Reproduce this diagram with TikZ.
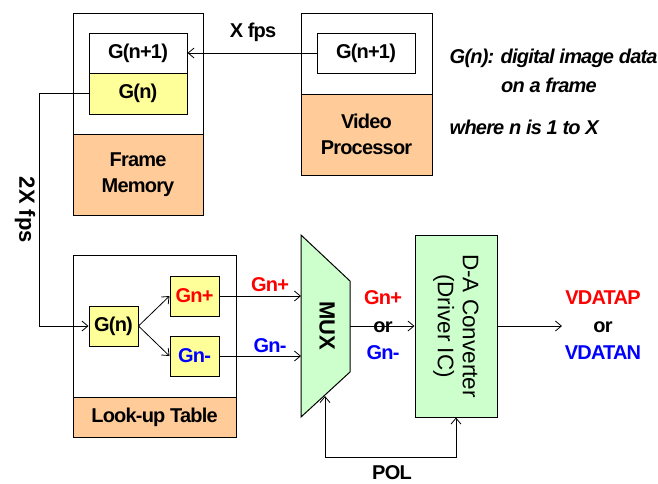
\documentclass[tikz,border=0pt]{standalone}
\usepackage{fontspec}
\setmainfont{Liberation Sans}[LetterSpace=-4]
\newfontfamily\widefont{Liberation Sans}
\usetikzlibrary{arrows.meta,positioning}
\definecolor{peach}{RGB}{255,204,153}
\definecolor{lemon}{RGB}{255,255,153}
\definecolor{mint}{RGB}{204,255,204}
\begin{document}
\begin{tikzpicture}[
  x=1pt,y=-1pt,
  font=\fontsize{20}{26}\selectfont\bfseries,
  >={Straight Barb[length=6pt,width=10pt]},
  line width=0.8pt,
  box/.style={draw,line width=1pt,inner sep=0pt,align=center},
  wide/.style={box,minimum width=98pt,minimum height=40pt},
  small/.style={box,fill=lemon,minimum width=49pt,minimum height=40pt},
  note/.style={anchor=west,font=\fontsize{20}{22}\selectfont\bfseries\itshape}
]
\useasboundingbox (0,0) rectangle (658,483);
% frame memory
\node[box,minimum width=130pt,minimum height=202pt] (fm) at (138,114) {};
\node[box,fill=peach,minimum width=130pt,minimum height=81pt] (fmlbl) at (138,174.5) {Frame\\Memory};
\node[wide] (fmnext) at (138,53) {G(n+1)};
\node[wide,fill=lemon,minimum height=41pt] (fmcur) at (138,93.5) {G(n)};
% video processor
\node[box,minimum width=131pt,minimum height=162pt] (vp) at (366.5,94) {};
\node[box,fill=peach,minimum width=131pt,minimum height=81pt] (vplbl) at (366.5,134.5) {Video\\Processor};
\node[wide] (vpnext) at (366,53) {G(n+1)};
% look-up table
\node[box,minimum width=163pt,minimum height=182pt] (lut) at (154.5,346) {};
\node[box,fill=peach,minimum width=163pt,minimum height=40pt] (lutlbl) at (154.5,417) {Look-up Table};
\node[small] (lutcur) at (113.5,326) {G(n)};
\node[small,text=red] (gnp) at (194.5,296) {Gn+};
\node[small,text=blue] (gnm) at (194.5,356) {Gn-};
% mux and converter
\draw[fill=mint,line width=1pt] (301,235) -- (350,281) -- (350,372) -- (301,417) -- cycle;
\node[rotate=-90,font=\fontsize{22}{24}\selectfont\widefont\bfseries] (mux) at (327,326) {MUX};
\coordinate (muxp) at (301,296);
\coordinate (muxm) at (301,356);
\coordinate (muxout) at (350,326);
\coordinate (muxpol) at (325,396);
\node[box,fill=mint,minimum width=82pt,minimum height=182pt] (dac) at (456,326) {};
\node[rotate=-90,align=center,font=\fontsize{22.5}{25}\selectfont\widefont] (dactext) at (dac.center) {D-A Converter\\(Driver IC)};
\coordinate (vout) at (562,326);
\coordinate (polc) at (392,457);
% connectors
\draw[->] (vpnext.west) -- (fmnext.east);
\draw[->] (fmcur.west) -- ++(-49,0) |- (lutcur.west);
\draw[->] (lutcur.east) -- (gnp.west);
\draw[->] (lutcur.east) -- (gnm.west);
\draw[->] (gnp.east) -- (muxp);
\draw[->] (gnm.east) -- (muxm);
\draw[->] (muxout) -- (dac.west);
\draw[->] (dac.east) -- (vout);
\draw[->] (polc) -| (muxpol);
\draw[->] (polc) -| (dac.south);
% labels
\node (xfps) at (253,32) {X fps};
\node[rotate=-90,font=\fontsize{22}{24}\selectfont\widefont\bfseries] (twoxfps) at (25,210) {2X fps};
\node[text=red] (lblgnp) at (270,285) {Gn+};
\node[text=blue] (lblgnm) at (270,346) {Gn-};
\node[text=red] (selp) at (383,298) {Gn+};
\node (selor) at (383,327) {or};
\node[text=blue] (selm) at (383,353) {Gn-};
\node[text=red] (outp) at (603,298) {VDATAP};
\node (outor) at (603,327) {or};
\node[text=blue] (outm) at (603,353) {VDATAN};
\node (pol) at (392,473) {POL};
\node[note] (defn) at (446,58) {G(n): digital image data};
\node[note,anchor=center] (defn2) at (549,85) {on a frame};
\node[note] (range) at (446,127) {where n is 1 to X};
\end{tikzpicture}
\end{document}
